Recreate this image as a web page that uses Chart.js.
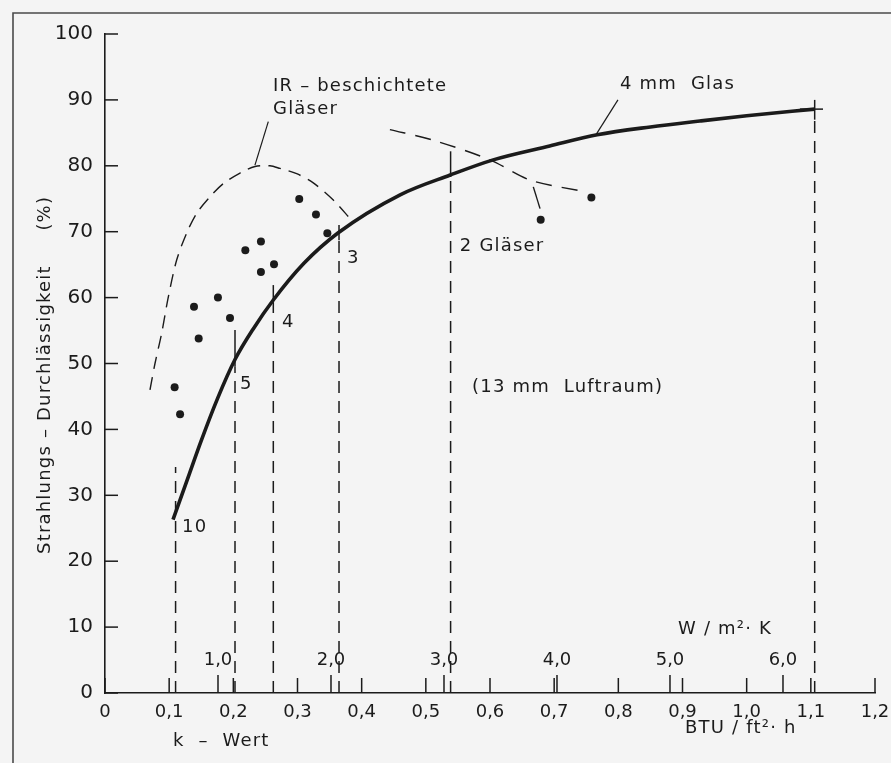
<!DOCTYPE html>
<html><head><meta charset="utf-8">
<script src="https://cdn.jsdelivr.net/npm/chart.js@4.4.0/dist/chart.umd.min.js"></script>
<style>html,body{margin:0;padding:0;background:#f4f4f4;}canvas{display:block;}</style>
</head><body>
<canvas id="c" width="891" height="763"></canvas>
<script>
// ---------- data ----------
const xTickValues = [0, 0.1, 0.2, 0.3, 0.4, 0.5, 0.6, 0.7, 0.8, 0.9, 1.0, 1.1, 1.2];
const xTickLabels = ['0', '0,1', '0,2', '0,3', '0,4', '0,5', '0,6', '0,7', '0,8', '0,9', '1,0', '1,1', '1,2'];
const yTickValues = [0, 10, 20, 30, 40, 50, 60, 70, 80, 90, 100];
const yTickLabels = ['0', '10', '20', '30', '40', '50', '60', '70', '80', '90', '100'];
const wTickValues = [1, 2, 3, 4, 5, 6];
const wTickLabels = ['1,0', '2,0', '3,0', '4,0', '5,0', '6,0'];
const BTU_PER_W = 0.1761; // 1 W/m²K in BTU/ft²h°F

// 4 mm Glas curve
const glasK = [0.106, 0.128, 0.15, 0.175, 0.2026, 0.232, 0.262, 0.31, 0.363, 0.46, 0.538, 0.605, 0.693, 0.767, 0.85, 0.927, 1.0, 1.106];
const glasT = [26.3, 32.3, 38.3, 44.6, 50.6, 55.4, 59.6, 65.2, 69.8, 75.6, 78.6, 80.9, 83.0, 84.7, 85.9, 86.8, 87.6, 88.6];

// IR-beschichtete Gläser envelope
const irK = [0.0701, 0.0779, 0.0883, 0.0987, 0.1117, 0.1273, 0.1429, 0.1636, 0.1844, 0.2104, 0.2338, 0.2571, 0.2727, 0.2987, 0.3246, 0.3558, 0.3818];
const irT = [46.0, 50.0, 54.6, 60.1, 65.7, 69.8, 72.8, 75.3, 77.3, 78.9, 79.9, 80.0, 79.6, 78.8, 77.4, 74.8, 72.0];

// IR coated glass measurements
const dotK = [0.3027, 0.3288, 0.3465, 0.2187, 0.243, 0.243, 0.2634, 0.1387, 0.176, 0.1948, 0.146, 0.1085, 0.117];
const dotT = [74.96, 72.6, 69.75, 67.2, 68.5, 63.9, 65.05, 58.6, 60.0, 56.9, 53.8, 46.4, 42.3];

// 2 Gläser dashed curve and points
const twoK = [0.444, 0.511, 0.6, 0.6623, 0.7455];
const twoT = [85.5, 83.9, 80.9, 77.85, 76.1];
const twoBranchK = [0.6675, 0.678];
const twoBranchT = [76.8, 73.5];
const twoDotK = [0.679, 0.758];
const twoDotT = [71.8, 75.2];

// panes (number of glass layers) vertical lines
const paneK = [0.110, 0.2026, 0.2623, 0.3647, 0.5386, 1.106];
const paneDashTop = [34.3, 49.5, 59.2, 68.7, 78.3, 87.0];
const paneTickLo = [null, 49.5, 59.2, 68.7, 78.3, 87.0];
const paneTickHi = [null, 55.1, 61.9, 71.0, 82.2, 90.0];
const paneLabels = ['10', '5', '4', '3', '2 Gläser', ''];
const crossK = [1.083, 1.119];
const crossT = [88.6, 88.6];

// leader lines
const irLeaderK = [0.2545, 0.2337];
const irLeaderT = [86.7, 80.1];
const glasLeaderK = [0.7994, 0.765];
const glasLeaderT = [90.0, 84.7];

// ---------- layout of texts (data coords of left/center anchor) ----------
const paneLabelPos = [[0.120, 25.2], [0.2104, 46.9], [0.2758, 56.3], [0.377, 65.9], [0.553, 67.8], [0, 0]];
const notes = [
  { text: '(13 mm  Luftraum)', x: 0.572, y: 46.4 },
  { text: '4 mm  Glas', x: 0.8026, y: 92.3 },
  { text: 'IR – beschichtete', x: 0.2618, y: 92.0 },
  { text: 'Gläser', x: 0.2618, y: 88.6 },
  { text: 'W / m²· K', x: 0.893, y: 9.6 },
  { text: 'BTU / ft²· h', x: 0.904, y: -5.3 },
  { text: 'k  –  Wert', x: 0.106, y: -7.4 }
];

const INK = '#1b1b1b';
const FONT = '"DejaVu Sans", sans-serif';
const pts = (xs, ys) => xs.map((v, i) => ({ x: v, y: ys[i] }));
const lineDs = (data, opts) => Object.assign({
  type: 'line', data, showLine: true, pointRadius: 0, borderColor: INK,
  backgroundColor: INK, borderWidth: 1.5, fill: false, tension: 0
}, opts || {});

const datasets = [];
datasets.push(lineDs(pts(glasK, glasT), { borderWidth: 3.6, cubicInterpolationMode: 'monotone' }));
datasets.push(lineDs(pts(irK, irT), { borderWidth: 1.4, tension: 0.3, borderDash: [13, 8] }));
datasets.push(lineDs(pts(twoK, twoT), { borderWidth: 1.4, tension: 0.3, borderDash: [16, 10] }));
datasets.push(lineDs(pts(twoBranchK, twoBranchT), { borderWidth: 1.4 }));
paneK.forEach((k, i) => {
  datasets.push(lineDs([{ x: k, y: 0 }, { x: k, y: paneDashTop[i] }], { borderWidth: 1.5, borderDash: [12, 8] }));
  if (paneTickLo[i] !== null) {
    datasets.push(lineDs([{ x: k, y: paneTickLo[i] }, { x: k, y: paneTickHi[i] }], { borderWidth: 1.5 }));
  }
});
datasets.push(lineDs(pts(crossK, crossT), { borderWidth: 1.5 }));
datasets.push(lineDs(pts(irLeaderK, irLeaderT), { borderWidth: 1.2 }));
datasets.push(lineDs(pts(glasLeaderK, glasLeaderT), { borderWidth: 1.2 }));
datasets.push({ type: 'scatter', data: pts(dotK, dotT), pointRadius: 4, pointBackgroundColor: INK, pointBorderWidth: 0, showLine: false });
datasets.push({ type: 'scatter', data: pts(twoDotK, twoDotT), pointRadius: 4, pointBackgroundColor: INK, pointBorderWidth: 0, showLine: false });

const decor = {
  id: 'decor',
  beforeDraw(chart) {
    const ctx = chart.ctx;
    ctx.save();
    ctx.fillStyle = '#f4f4f4';
    ctx.fillRect(0, 0, chart.width, chart.height);
    ctx.strokeStyle = '#4a4a4a';
    ctx.lineWidth = 1.6;
    ctx.beginPath();
    ctx.moveTo(13, chart.height);
    ctx.lineTo(13, 13);
    ctx.lineTo(chart.width, 13);
    ctx.stroke();
    ctx.restore();
  },
  afterDraw(chart) {
    const ctx = chart.ctx;
    const x = chart.scales.x, y = chart.scales.y;
    const bottom = y.getPixelForValue(0);
    ctx.save();
    ctx.strokeStyle = INK;
    ctx.fillStyle = INK;
    ctx.lineWidth = 1.5;
    xTickValues.forEach(v => {
      const px = x.getPixelForValue(v);
      ctx.beginPath(); ctx.moveTo(px, bottom); ctx.lineTo(px, bottom - 15); ctx.stroke();
    });
    yTickValues.forEach(v => {
      const py = y.getPixelForValue(v);
      ctx.beginPath(); ctx.moveTo(x.left, py); ctx.lineTo(x.left + 13, py); ctx.stroke();
    });
    ctx.font = '18px ' + FONT;
    ctx.textAlign = 'center';
    ctx.textBaseline = 'middle';
    wTickValues.forEach((w, i) => {
      const px = x.getPixelForValue(w * BTU_PER_W);
      ctx.beginPath(); ctx.moveTo(px, bottom); ctx.lineTo(px, bottom - 18); ctx.stroke();
      ctx.fillText(wTickLabels[i], px, bottom - 33);
    });
    ctx.textAlign = 'left';
    try { ctx.letterSpacing = '1.2px'; } catch (e) {}
    paneLabels.forEach((t, i) => {
      if (!t) return;
      ctx.fillText(t, x.getPixelForValue(paneLabelPos[i][0]), y.getPixelForValue(paneLabelPos[i][1]));
    });
    notes.forEach(n => {
      ctx.fillText(n.text, x.getPixelForValue(n.x), y.getPixelForValue(n.y));
    });
    ctx.save();
    ctx.translate(45, y.getPixelForValue(43));
    ctx.rotate(-Math.PI / 2);
    ctx.textAlign = 'center';
    ctx.fillText('Strahlungs – Durchlässigkeit', 0, 0);
    ctx.restore();
    ctx.save();
    ctx.translate(45, y.getPixelForValue(72.8));
    ctx.rotate(-Math.PI / 2);
    ctx.textAlign = 'center';
    ctx.fillText('(%)', 0, 0);
    ctx.restore();
    ctx.restore();
  }
};

new Chart(document.getElementById('c'), {
  type: 'scatter',
  data: { datasets },
  options: {
    responsive: false,
    animation: false,
    events: [],
    layout: { padding: { left: 0, top: 34, right: 16, bottom: 0 } },
    plugins: { legend: { display: false }, tooltip: { enabled: false } },
    scales: {
      x: {
        type: 'linear', min: 0, max: 1.2,
        afterFit(s) { s.height = 70; s.paddingLeft = 0; s.paddingRight = 0; },
        afterBuildTicks(s) { s.ticks = xTickValues.map(v => ({ value: v })); },
        grid: { display: false, drawTicks: false },
        border: { display: true, color: INK, width: 1.6 },
        ticks: {
          padding: 9, color: INK, maxRotation: 0, autoSkip: false,
          font: { family: 'DejaVu Sans', size: 18 },
          callback: (v, i) => xTickLabels[i]
        }
      },
      y: {
        type: 'linear', min: 0, max: 100,
        afterFit(s) { s.width = 105; s.paddingTop = 0; s.paddingBottom = 0; },
        afterBuildTicks(s) { s.ticks = yTickValues.map(v => ({ value: v })); },
        grid: { display: false, drawTicks: false },
        border: { display: true, color: INK, width: 1.6 },
        ticks: {
          padding: 12, color: INK, autoSkip: false,
          font: { family: 'DejaVu Sans', size: 20 },
          callback: (v, i) => yTickLabels[i]
        }
      }
    }
  },
  plugins: [decor]
});
</script>
</body></html>
